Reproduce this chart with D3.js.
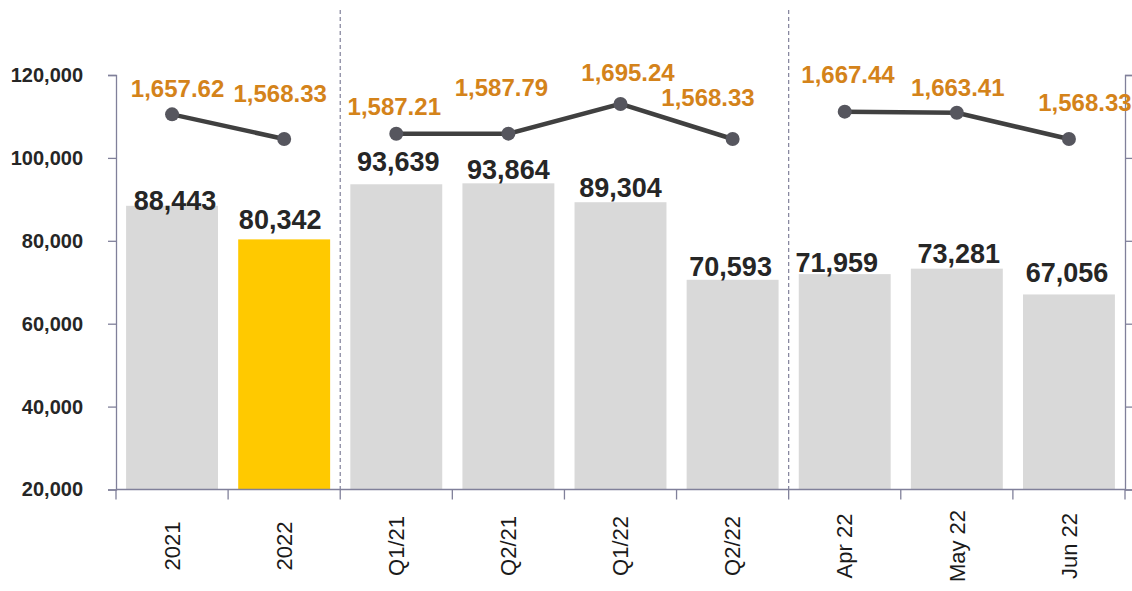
<!DOCTYPE html>
<html>
<head>
<meta charset="utf-8">
<script src="https://cdn.jsdelivr.net/npm/d3@7"></script>
<style>
  body { margin: 0; background: #fff; }
  svg { display: block; font-family: Arial, "Liberation Sans", sans-serif; }
</style>
</head>
<body>
<div id="chart"></div>
<script>
// chart data
var categories = ["2021", "2022", "Q1/21", "Q2/21", "Q1/22", "Q2/22", "Apr 22", "May 22", "Jun 22"];
var groups     = ["year", "year", "quarter", "quarter", "quarter", "quarter", "month", "month", "month"];
var barValues  = [88443, 80342, 93639, 93864, 89304, 70593, 71959, 73281, 67056];
var lineValues = [1657.62, 1568.33, 1587.21, 1587.79, 1695.24, 1568.33, 1667.44, 1663.41, 1568.33];
var highlight  = "2022";
var leftTicks  = [20000, 40000, 60000, 80000, 100000, 120000];
var rightTicks = [300, 600, 900, 1200, 1500, 1800];

// hand placed label nudges (px), as in the original
var barLabelDx  = [3, -4, 2, 0, 0, -2, -8, 2, -2];
var barLabelDy  = [4, -10, -13, -4, -5, -4, -2, -6, -12];
var lineLabelDx = [5.5, -4, -2, -7, 7.5, -24.6, 3.3, 1, 16];
var lineLabelDy = [-17.6, -37, -19, -38, -22.6, -33, -29, -17, -28];

(function () {

var fullWidth = 1132, fullHeight = 591;
var plotLeft = 116, plotRight = 1125, plotTop = 75, plotBottom = 489.5;

var axisColor = "#80809a",
    barColor = "#d9d9d9",
    hiColor = "#ffc900",
    lineColor = "#404040",
    labelOrange = "#d4831a",
    textDark = "#262626";

var svg = d3.select("#chart").append("svg")
    .attr("width", fullWidth)
    .attr("height", fullHeight);

var x = d3.scaleBand()
    .domain(categories)
    .range([plotLeft, plotRight])
    .paddingInner(0.18)
    .paddingOuter(0.09);

var y = d3.scaleLinear().domain([20000, 120000]).range([plotBottom, plotTop]);
var y2 = d3.scaleLinear().domain([300, 1800]).range([plotBottom, plotTop]);

var step = x.step();
function boundary(i) { return x.range()[0] + i * step; }

// bars
svg.append("g").selectAll("rect")
    .data(categories)
    .enter().append("rect")
    .attr("x", function(d) { return x(d); })
    .attr("y", function(d, i) { return y(barValues[i]); })
    .attr("width", x.bandwidth())
    .attr("height", function(d, i) { return plotBottom - y(barValues[i]); })
    .attr("fill", function(d) { return d == highlight ? hiColor : barColor; });

// group separators
var seps = [];
for (var i = 1; i < categories.length; i++) {
    if (groups[i] != groups[i - 1]) seps.push(i);
}
svg.append("g").selectAll("line")
    .data(seps)
    .enter().append("line")
    .attr("x1", function(d) { return boundary(d); })
    .attr("x2", function(d) { return boundary(d); })
    .attr("y1", 10)
    .attr("y2", plotBottom)
    .attr("stroke", axisColor)
    .attr("stroke-width", 1.2)
    .attr("stroke-dasharray", "4,3");

// left axis
var yAxis = svg.append("g")
    .attr("transform", "translate(" + plotLeft + ",0)")
    .call(d3.axisLeft(y).tickValues(leftTicks).tickSize(8).tickPadding(25)
        .tickFormat(d3.format(",")));
yAxis.selectAll("text")
    .attr("font-size", 20)
    .attr("font-weight", "bold")
    .attr("fill", textDark)
    .attr("font-family", "Arial, 'Liberation Sans', sans-serif");

// right axis, no labels
svg.append("g")
    .attr("transform", "translate(" + plotRight + ",0)")
    .call(d3.axisRight(y2).tickValues(rightTicks).tickSize(7).tickFormat(""));

svg.selectAll(".domain, .tick line")
    .attr("stroke", axisColor)
    .attr("stroke-width", 1.3);

// bottom axis line and category boundary ticks
svg.append("line")
    .attr("x1", plotLeft).attr("x2", plotRight)
    .attr("y1", plotBottom).attr("y2", plotBottom)
    .attr("stroke", axisColor).attr("stroke-width", 1.3);

svg.append("g").selectAll("line")
    .data(d3.range(categories.length + 1))
    .enter().append("line")
    .attr("x1", function(d) { return boundary(d); })
    .attr("x2", function(d) { return boundary(d); })
    .attr("y1", plotBottom)
    .attr("y2", plotBottom + 10)
    .attr("stroke", axisColor)
    .attr("stroke-width", 1.3);

// category labels, rotated
svg.append("g").selectAll("text")
    .data(categories)
    .enter().append("text")
    .attr("transform", function(d) {
        return "translate(" + (x(d) + x.bandwidth() / 2) + ",546) rotate(-90)";
    })
    .attr("text-anchor", "middle")
    .attr("dy", "0.35em")
    .attr("font-size", 22)
    .attr("fill", "#1a1a1a")
    .text(function(d) { return d; });

// bar value labels
var fmt = d3.format(",");
svg.append("g").selectAll("text")
    .data(categories)
    .enter().append("text")
    .attr("x", function(d, i) { return x(d) + x.bandwidth() / 2 + barLabelDx[i]; })
    .attr("y", function(d, i) { return y(barValues[i]) + barLabelDy[i]; })
    .attr("text-anchor", "middle")
    .attr("font-size", 27)
    .attr("font-weight", "bold")
    .attr("fill", textDark)
    .text(function(d, i) { return fmt(barValues[i]); });

// line, broken where the group changes
var pts = categories.map(function(d, i) {
    return { cat: d, group: groups[i], v: lineValues[i], i: i };
});
var segs = d3.groups(pts, function(d) { return d.group; }).map(function(g) { return g[1]; });

var line = d3.line()
    .x(function(d) { return x(d.cat) + x.bandwidth() / 2; })
    .y(function(d) { return y2(d.v); });

svg.append("g").selectAll("path")
    .data(segs)
    .enter().append("path")
    .attr("d", line)
    .attr("fill", "none")
    .attr("stroke", lineColor)
    .attr("stroke-width", 4.5);

svg.append("g").selectAll("circle")
    .data(pts)
    .enter().append("circle")
    .attr("cx", function(d) { return x(d.cat) + x.bandwidth() / 2; })
    .attr("cy", function(d) { return y2(d.v); })
    .attr("r", 7)
    .attr("fill", "#56565e");

var fmt2 = d3.format(",.2f");
svg.append("g").selectAll("text")
    .data(pts)
    .enter().append("text")
    .attr("x", function(d) { return x(d.cat) + x.bandwidth() / 2 + lineLabelDx[d.i]; })
    .attr("y", function(d) { return y2(d.v) + lineLabelDy[d.i]; })
    .attr("text-anchor", "middle")
    .attr("font-size", 24)
    .attr("font-weight", "bold")
    .attr("fill", labelOrange)
    .text(function(d) { return fmt2(d.v); });

})();
</script>
</body>
</html>
